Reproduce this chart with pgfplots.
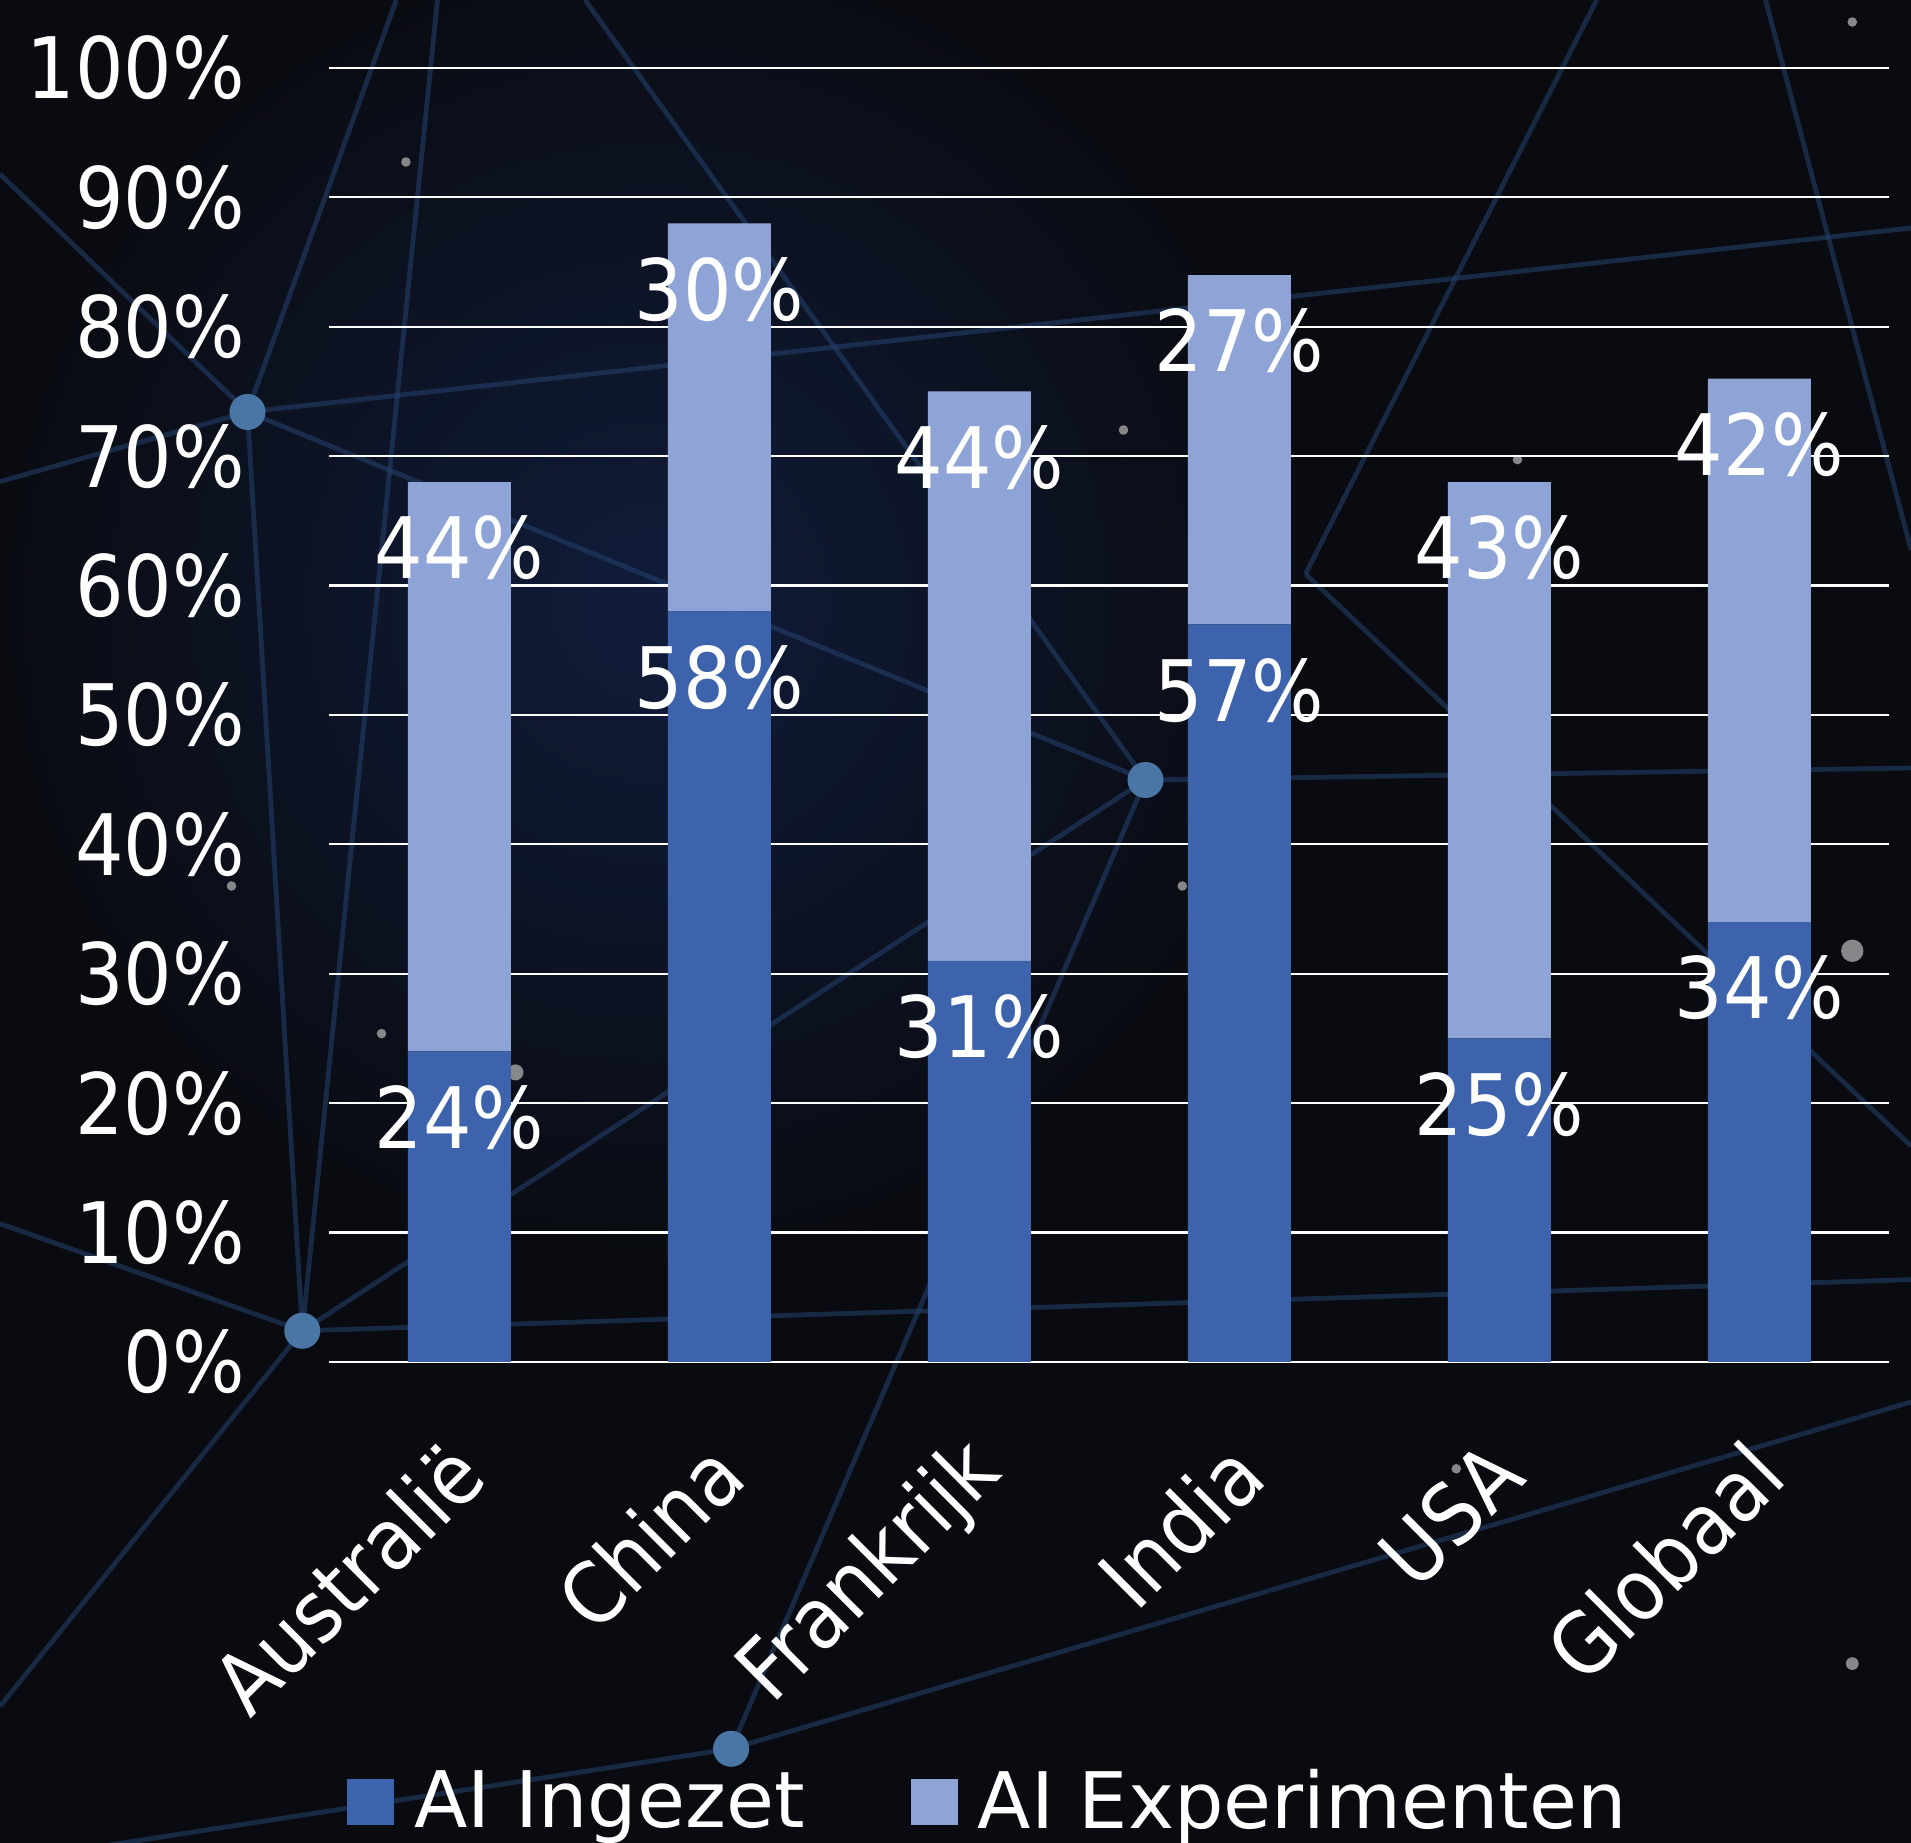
\documentclass[border=0pt]{standalone}
\usepackage{pgfplots}
\pgfplotsset{compat=1.18}
\usepackage{fontspec}
\setmainfont{DejaVu Sans Condensed}
\newfontfamily\legfont{DejaVu Sans}

\definecolor{bg}{HTML}{0A0B10}
\definecolor{glow}{HTML}{101C3A}
\definecolor{ingezet}{HTML}{3D63AD}
\definecolor{exper}{HTML}{8FA4D6}
\definecolor{net}{HTML}{24426F}
\definecolor{knot}{HTML}{4A76A6}

\newcommand{\lbl}{\fontsize{21.2}{26}\selectfont}

\begin{document}
\begin{tikzpicture}
% page = background
\useasboundingbox (-82.375pt,-120.25pt) rectangle (395.375pt,340.5pt);
\fill[bg] (-82.375pt,-120.25pt) rectangle (395.375pt,340.5pt);
\clip (-82.375pt,-120.25pt) rectangle (395.375pt,340.5pt);
\shade[inner color=glow, outer color=bg] (80pt,190pt) circle (170pt);

% network decoration
\begin{scope}[net, line width=1.2pt, opacity=0.55]
  \draw (-20.5pt,237.5pt) -- (16.7pt,340.5pt);
  \draw (-20.5pt,237.5pt) -- (-82.4pt,220.1pt);
  \draw (-20.5pt,237.5pt) -- (-82.4pt,297pt);
  \draw (-20.5pt,237.5pt) -- (204pt,145.5pt);
  \draw (-20.5pt,237.5pt) -- (395.4pt,283.5pt);
  \draw (27pt,340.5pt) -- (-6.8pt,7.8pt);
  \draw (-20.5pt,237.5pt) -- (-6.8pt,7.8pt);
  \draw (-6.8pt,7.8pt) -- (395.4pt,20.6pt);
  \draw (-82.4pt,34.6pt) -- (-6.8pt,7.8pt);
  \draw (-6.8pt,7.8pt) -- (-82.4pt,-86.1pt);
  \draw (204pt,145.5pt) -- (395.4pt,148.5pt);
  \draw (204pt,145.5pt) -- (100.4pt,-96.7pt);
  \draw (100.4pt,-96.7pt) -- (-82.4pt,-125pt);
  \draw (100.4pt,-96.7pt) -- (395.4pt,-10pt);
  \draw (63.9pt,340.5pt) -- (204pt,145.5pt);
  \draw (316.8pt,340.5pt) -- (244pt,197pt);
  \draw (244pt,197pt) -- (395.4pt,54pt);
  \draw (359pt,340.5pt) -- (395.4pt,203pt);
  \draw (-6.8pt,7.8pt) -- (204pt,145.5pt);
\end{scope}
\fill[knot] (-20.5pt,237.5pt) circle (4.5pt);
\fill[knot] (204pt,145.5pt) circle (4.5pt);
\fill[knot] (-6.8pt,7.8pt) circle (4.5pt);
\fill[knot] (100.4pt,-96.7pt) circle (4.5pt);
\begin{scope}[gray!70!white, opacity=0.8]
  \fill (19.1pt,300pt) circle (1.2pt);
  \fill (198.5pt,233pt) circle (1.2pt);
  \fill (-24.5pt,119pt) circle (1.2pt);
  \fill (13pt,82.1pt) circle (1.2pt);
  \fill (380.7pt,335pt) circle (1.2pt);
  \fill (297pt,225.6pt) circle (1.2pt);
  \fill (213.2pt,119pt) circle (1.2pt);
  \fill (380.7pt,-75.4pt) circle (1.6pt);
  \fill (281.7pt,-26.7pt) circle (1.2pt);
  \fill (380.7pt,102.8pt) circle (2.8pt);
  \fill (46.5pt,72.4pt) circle (2pt);
\end{scope}

\begin{axis}[
  at={(0pt,0pt)}, anchor=south west,
  scale only axis, width=390pt, height=323.5pt,
  ybar stacked, bar width=25.75pt,
  xmin=-0.5, xmax=5.5, ymin=0, ymax=100,
  xtick={0,...,5},
  xticklabels={Australië,China,Frankrijk,India,USA,Globaal},
  ytick={0,10,...,100},
  yticklabel={\pgfmathprintnumber{\tick}\%},
  /pgf/number format/assume math mode=true,
  axis line style={draw=none},
  major tick length=0pt,
  ymajorgrids, grid style={white, line width=0.55pt},
  ticklabel style={text=white, font=\lbl},
  yticklabel style={anchor=east, inner sep=0pt, xshift=-21pt},
  xticklabel style={yshift=-24pt, xshift=2pt, rotate=45, anchor=east, inner sep=0pt},
  point meta=explicit symbolic,
  nodes near coords={\pgfplotspointmeta\%},
  % labels sit inside the top end of each segment
  every node near coord/.append style={text=white, font=\lbl, anchor=center,
    inner sep=0pt, yshift={\pgfplotspointmeta*1.6175pt-16.5pt}},
  legend columns=2,
  legend style={at={(axis description cs:0.011,-0.34)}, anchor=west,
    draw=none, fill=none, text=white, inner sep=0pt,
    font=\legfont\fontsize{19.5}{23}\selectfont,
    /tikz/every odd column/.append style={column sep=3pt},
    /tikz/every even column/.append style={column sep=24.5pt}},
]
\addplot[fill=ingezet, draw=none,
  legend image code/.code={\fill[ingezet] (0pt,-5.85pt) rectangle (11.7pt,5.85pt);}]
  coordinates {(0,24) [24] (1,58) [58] (2,31) [31] (3,57) [57] (4,25) [25] (5,34) [34]};
\addplot[fill=exper, draw=none,
  legend image code/.code={\fill[exper] (0pt,-5.85pt) rectangle (11.7pt,5.85pt);}]
  coordinates {(0,44) [44] (1,30) [30] (2,44) [44] (3,27) [27] (4,43) [43] (5,42) [42]};
\legend{AI Ingezet, AI Experimenten}
\end{axis}
\end{tikzpicture}
\end{document}
